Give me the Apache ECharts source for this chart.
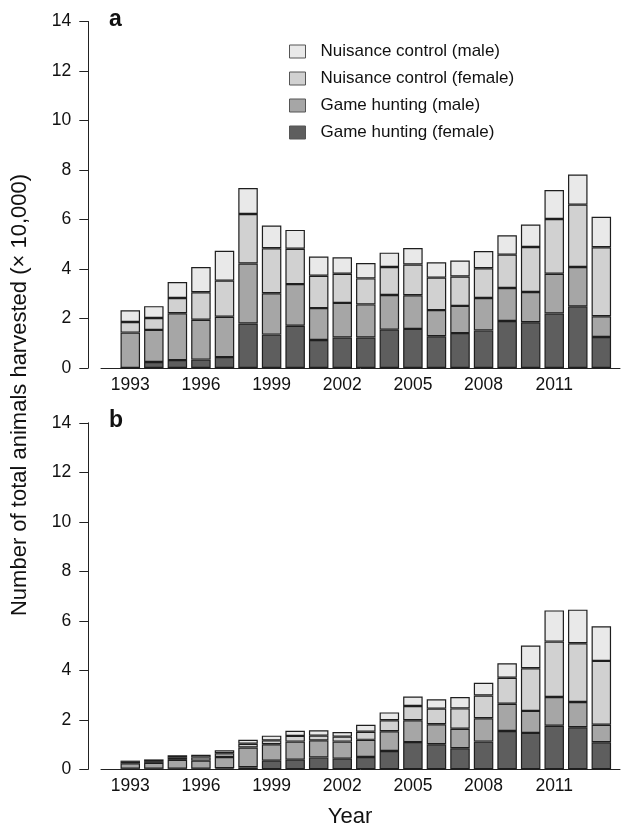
<!DOCTYPE html>
<html>
<head>
<meta charset="utf-8">
<script src="https://cdn.jsdelivr.net/npm/echarts@6/dist/echarts.min.js"></script>
<style>html,body{margin:0;padding:0;background:#fff}#c{width:626px;height:832px}</style>
</head>
<body>
<div id="c"></div>
<script>
const years = ['1993','1994','1995','1996','1997','1998','1999','2000','2001','2002','2003','2004','2005','2006','2007','2008','2009','2010','2011','2012','2013'];
const xTickYears = ['1993','1996','1999','2002','2005','2008','2011'];
const yTicks = [0,2,4,6,8,10,12,14];
const seriesNames = ['Game hunting (female)','Game hunting (male)','Nuisance control (female)','Nuisance control (male)'];

// Panel a (x 10,000)
const aGameFemale     = [0.00,0.24,0.32,0.34,0.44,1.80,1.35,1.71,1.13,1.23,1.23,1.55,1.58,1.28,1.41,1.52,1.90,1.85,2.20,2.49,1.25];
const aGameMale       = [1.43,1.30,1.89,1.61,1.63,2.42,1.67,1.68,1.29,1.40,1.34,1.40,1.36,1.06,1.10,1.31,1.33,1.22,1.61,1.59,0.84];
const aNuisanceFemale = [0.43,0.48,0.62,1.11,1.46,2.00,1.82,1.43,1.31,1.18,1.05,1.13,1.24,1.31,1.19,1.20,1.35,1.82,2.21,2.52,2.79];
const aNuisanceMale   = [0.47,0.48,0.64,1.02,1.21,1.05,0.92,0.76,0.77,0.66,0.62,0.58,0.67,0.62,0.64,0.70,0.78,0.91,1.17,1.22,1.23];

// Panel b (x 10,000)
const bGameFemale     = [0.02,0.02,0.02,0.02,0.04,0.08,0.35,0.39,0.48,0.43,0.50,0.74,1.10,1.01,0.85,1.12,1.55,1.47,1.76,1.70,1.09];
const bGameMale       = [0.22,0.24,0.36,0.33,0.46,0.80,0.66,0.73,0.69,0.69,0.69,0.80,0.88,0.81,0.79,0.94,1.10,0.89,1.16,1.02,0.71];
const bNuisanceFemale = [0.06,0.07,0.09,0.13,0.15,0.15,0.16,0.23,0.19,0.20,0.33,0.44,0.58,0.63,0.82,0.92,1.05,1.72,2.24,2.37,2.58];
const bNuisanceMale   = [0.05,0.07,0.10,0.11,0.12,0.16,0.19,0.21,0.22,0.19,0.28,0.32,0.38,0.38,0.46,0.52,0.58,0.92,1.26,1.36,1.40];

const colors = ['#5e5e5e','#a6a6a6','#d1d1d1','#e9e9e9'];
const FONT = 'Liberation Sans, Arial, Helvetica, sans-serif';

const panels = [
  [aGameFemale, aGameMale, aNuisanceFemale, aNuisanceMale],
  [bGameFemale, bGameMale, bNuisanceFemale, bNuisanceMale]
];

const series = [];
panels.forEach((p, gi) => {
  p.forEach((vals, si) => {
    series.push({
      name: seriesNames[si],
      type: 'bar',
      xAxisIndex: gi,
      yAxisIndex: gi,
      stack: 'panel' + gi,
      barWidth: 19.5,
      itemStyle: { color: colors[si], borderColor: '#1e1e1e', borderWidth: 1.2 },
      emphasis: { disabled: true },
      data: vals
    });
  });
});

const panelTops = [21.5, 422.8];
const PH = 346.5;
// bar grids (category pitch 23.55 px) + wider grids that only carry the x axis baseline
const grids = [
  { left: 118.5, right: 12.9, top: panelTops[0], height: PH },
  { left: 118.5, right: 12.9, top: panelTops[1], height: PH },
  { left: 101, right: 6, top: panelTops[0], height: PH },
  { left: 101, right: 6, top: panelTops[1], height: PH }
];

const xAxes = [0, 1].map(i => ({
  type: 'category', gridIndex: i, data: years,
  axisLine: { show: false },
  axisTick: { show: false },
  splitLine: { show: false },
  axisLabel: { color: '#111', fontSize: 17.5, fontFamily: FONT, margin: 8,
    interval: (idx, val) => xTickYears.indexOf(val) >= 0 }
})).concat([2, 3].map(i => ({
  type: 'value', gridIndex: i, min: 0, max: 1,
  axisLine: { show: true, lineStyle: { color: '#222', width: 1 } },
  axisTick: { show: false }, axisLabel: { show: false }, splitLine: { show: false }
})));

const yAxes = [0, 1].map(i => ({
  type: 'value', gridIndex: i, min: 0, max: 14, interval: 2, position: 'left', offset: 30.2,
  axisLine: { show: true, lineStyle: { color: '#222', width: 1 } },
  axisTick: { show: true, length: 9, lineStyle: { color: '#222', width: 1 } },
  splitLine: { show: false },
  axisLabel: { color: '#111', fontSize: 17.5, fontFamily: FONT, margin: 17 }
})).concat([2, 3].map(i => ({
  type: 'value', gridIndex: i, min: 0, max: 14, show: false
})));

const chart = echarts.init(document.getElementById('c'), null, { renderer: 'canvas' });
chart.setOption({
  animation: false,
  backgroundColor: '#fff',
  grid: grids,
  xAxis: xAxes,
  yAxis: yAxes,
  legend: {
    data: [seriesNames[3], seriesNames[2], seriesNames[1], seriesNames[0]],
    orient: 'vertical', left: 284, top: 38,
    icon: 'rect', itemWidth: 16, itemHeight: 13, itemGap: 10,
    selectedMode: false,
    itemStyle: { borderColor: '#555', borderWidth: 1 },
    textStyle: { fontSize: 17, fontFamily: FONT, color: '#111', padding: [0, 0, 0, 10] }
  },
  graphic: [
    { type: 'text', left: 109, top: 8, style: { text: 'a', font: 'bold 23px ' + FONT, fill: '#111' } },
    { type: 'text', left: 109, top: 409, style: { text: 'b', font: 'bold 23px ' + FONT, fill: '#111' } },
    { type: 'text', x: 20, y: 395, rotation: Math.PI / 2,
      style: { text: 'Number of total animals harvested (× 10,000)', font: '22px ' + FONT, fill: '#111', align: 'center', verticalAlign: 'middle' } },
    { type: 'text', x: 350, y: 817,
      style: { text: 'Year', font: '22px ' + FONT, fill: '#111', align: 'center', verticalAlign: 'middle' } }
  ],
  series: series
});
</script>
</body>
</html>
